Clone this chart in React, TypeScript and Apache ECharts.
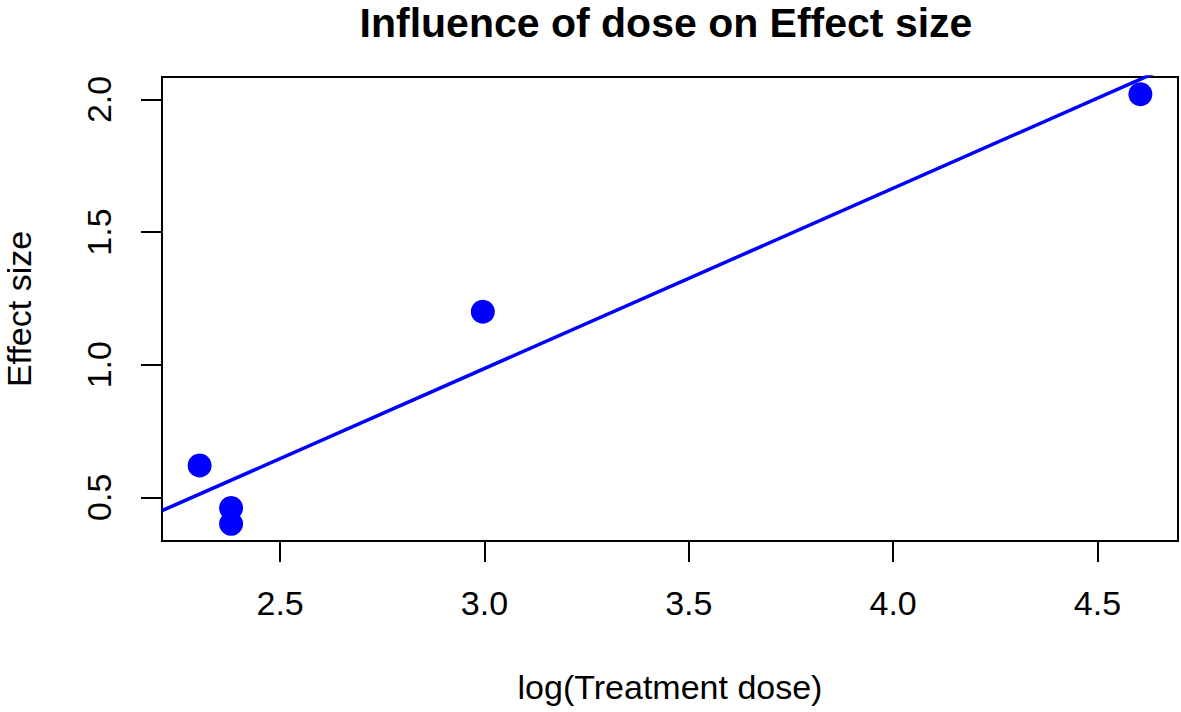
import React, { useEffect, useRef } from "react";
import * as echarts from "echarts";

const xValues = [2.303, 2.38, 2.38, 2.996, 4.605];
const yValues = [0.62, 0.46, 0.4, 1.2, 2.02];
const xTicks = [2.5, 3.0, 3.5, 4.0, 4.5];
const yTicks = [0.5, 1.0, 1.5, 2.0];
const titleText = "Influence of dose on Effect size";
const xName = "log(Treatment dose)";
const yName = "Effect size";

const FONT = "'Liberation Sans', Arial, sans-serif";

function fitLine(xs: number[], ys: number[]) {
  const n = xs.length;
  const mx = xs.reduce((a, b) => a + b, 0) / n;
  const my = ys.reduce((a, b) => a + b, 0) / n;
  let sxy = 0, sxx = 0;
  for (let i = 0; i < n; i++) {
    sxy += (xs[i] - mx) * (ys[i] - my);
    sxx += (xs[i] - mx) * (xs[i] - mx);
  }
  const slope = sxy / sxx;
  return { slope, intercept: my - slope * mx };
}

export default function App() {
  const ref = useRef<HTMLDivElement>(null);
  useEffect(() => {
    document.body.style.margin = "0";
    const chart = echarts.init(ref.current!, null, { renderer: "svg" });
    const xr = Math.max(...xValues) - Math.min(...xValues);
    const yr = Math.max(...yValues) - Math.min(...yValues);
    const xMin = Math.min(...xValues) - 0.04 * xr;
    const xMax = Math.max(...xValues) + 0.04 * xr;
    const yMin = Math.min(...yValues) - 0.04 * yr;
    const yMax = Math.max(...yValues) + 0.04 * yr;
    const { slope, intercept } = fitLine(xValues, yValues);
    const fit = [
      [xMin, intercept + slope * xMin],
      [xMax, intercept + slope * xMax],
    ];
    chart.setOption({
      animation: false,
      backgroundColor: "#fff",
      title: {
        text: titleText,
        left: 666,
        textAlign: "center",
        top: 0,
        padding: 0,
        textStyle: {
          fontFamily: FONT,
          fontWeight: "bold",
          fontSize: 41,
          lineHeight: 46,
          color: "#000",
        },
      },
      grid: {
        left: 162,
        right: 3,
        top: 77,
        bottom: 171,
        outerBoundsMode: "none",
        containLabel: false,
        show: true,
        borderColor: "#000",
        borderWidth: 2,
        backgroundColor: "transparent",
      },
      xAxis: {
        type: "value",
        min: xMin,
        max: xMax,
        name: xName,
        nameLocation: "middle",
        nameGap: 129,
        nameTextStyle: { fontFamily: FONT, fontSize: 34, color: "#000" },
        axisLine: { show: false },
        splitLine: { show: false },
        axisTick: {
          show: true,
          inside: false,
          length: 21,
          customValues: xTicks,
          lineStyle: { color: "#000", width: 2 },
        },
        axisLabel: {
          customValues: xTicks,
          formatter: (v: number) => v.toFixed(1),
          margin: 45,
          fontFamily: FONT,
          fontSize: 34,
          color: "#000",
        },
      },
      yAxis: {
        type: "value",
        min: yMin,
        max: yMax,
        name: yName,
        nameLocation: "middle",
        nameRotate: 90,
        nameGap: 126,
        nameTextStyle: { fontFamily: FONT, fontSize: 34, color: "#000" },
        axisLine: { show: false },
        splitLine: { show: false },
        axisTick: {
          show: true,
          inside: false,
          length: 21,
          customValues: yTicks,
          lineStyle: { color: "#000", width: 2 },
        },
        axisLabel: {
          customValues: yTicks,
          formatter: (v: number) => v.toFixed(1),
          rotate: 90,
          margin: 46,
          fontFamily: FONT,
          fontSize: 34,
          color: "#000",
        },
      },
      series: [
        {
          type: "scatter",
          data: xValues.map((x, i) => [x, yValues[i]]),
          symbol: "circle",
          symbolSize: 24,
          itemStyle: { color: "#0000FF", opacity: 1 },
          z: 2,
        },
        {
          type: "line",
          data: fit,
          clip: true,
          showSymbol: false,
          symbol: "none",
          lineStyle: { color: "#0000FF", width: 3.5 },
          z: 3,
        },
      ],
    });
    return () => chart.dispose();
  }, []);
  return <div ref={ref} style={{ width: 1181, height: 712 }} />;
}
